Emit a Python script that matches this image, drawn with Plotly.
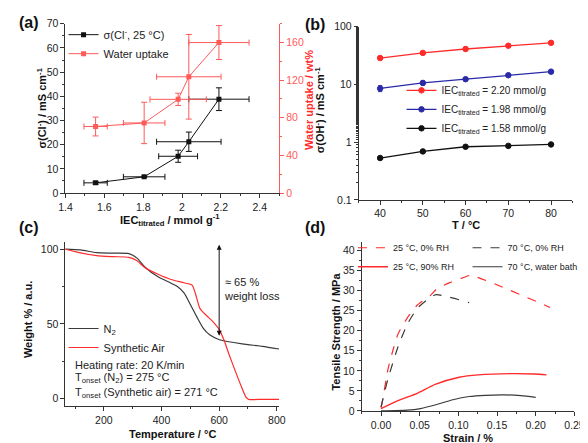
import plotly.graph_objects as go

W, H = 588, 443
def px(x): return x / W
def py(y): return 1 - y / H

FONT = "Liberation Sans, Arial, sans-serif"
RED_A = "#ff5a5a"
RED = "#ff2b2b"
BLUE = "#2a2aa8"
BLK = "#111111"
GRY = "#3a3a3a"

# ---------------- (a) data ----------------
a_iec = [1.555, 1.805, 1.98, 2.035, 2.19]
a_sigma = [4.2, 6.7, 15.2, 21.2, 38.8]
a_sigma_err = [0.6, 0.3, 2.5, 4.0, 4.7]
a_iec_err_sigma = [0.06, 0.107, 0.1, 0.166, 0.155]
a_wu = [70.7, 74.5, 99.6, 123.6, 160.0]
a_wu_err = [10.0, 22.0, 6.5, 45.0, 18.0]
a_iec_err_wu = [0.06, 0.107, 0.145, 0.166, 0.155]

# ---------------- (b) data ----------------
b_T = [40, 50, 60, 70, 80]
b_220 = [28.6, 35.1, 41.0, 46.7, 52.4]
b_220_err = [2.0, 2.0, 3.0, 2.0, 2.0]
b_198 = [8.5, 10.6, 12.3, 14.4, 16.6]
b_198_err = [1.0, 0.9, 0.6, 0.8, 0.6]
b_158 = [0.53, 0.69, 0.83, 0.86, 0.91]
b_158_err = [0.02, 0.02, 0.03, 0.02, 0.02]

# ---------------- (c) data ----------------
c_T_n2 = [65, 119, 175, 231, 287, 315, 343, 388, 433, 455, 478, 500, 523, 545, 567, 601, 680, 750, 808]
c_w_n2 = [100, 99.5, 97.6, 97.3, 97.0, 94.0, 87.9, 81.5, 77.2, 75.0, 70.7, 63.0, 54.5, 47.0, 42.7, 39.4, 36.6, 35.0, 33.2]
c_T_air = [65, 119, 175, 231, 287, 315, 343, 388, 433, 478, 506, 517, 534, 556, 578, 601, 618, 634, 657, 679, 693, 702, 750, 808]
c_w_air = [100, 97.5, 95.7, 95.0, 94.5, 92.2, 87.5, 83.2, 79.7, 77.5, 75.9, 70.7, 60.0, 55.6, 51.5, 46.0, 38.5, 29.7, 17.9, 7.1, 1.0, -0.5, -0.5, -0.5]

# ---------------- (d) data ----------------
d_s_25dry = [0.0, 0.001, 0.009, 0.0155, 0.022, 0.034, 0.047, 0.064, 0.072, 0.089, 0.106, 0.116, 0.2186]
d_t_25dry = [0.8, 1.6, 10.4, 15.2, 19.2, 23.2, 26.4, 28.8, 30.4, 32.0, 33.2, 33.8, 25.8]
d_s_70dry = [0.0, 0.009, 0.022, 0.034, 0.047, 0.059, 0.071, 0.114]
d_t_70dry = [1.0, 8.0, 16.0, 21.6, 25.6, 27.6, 29.0, 27.0]
d_s_25wet = [0.0, 0.022, 0.047, 0.07, 0.101, 0.126, 0.168, 0.198, 0.214]
d_t_25wet = [0.6, 2.6, 4.4, 6.6, 8.4, 9.0, 9.3, 9.2, 9.0]
d_s_70bath = [0.0, 0.034, 0.051, 0.072, 0.093, 0.114, 0.135, 0.16, 0.181, 0.2]
d_t_70bath = [0.0, 0.2, 0.6, 1.6, 2.8, 3.6, 3.9, 4.0, 3.8, 3.4]

fig = go.Figure()

# (a)
fig.add_trace(go.Scatter(x=a_iec, y=a_sigma, mode="lines+markers", name="σ(Cl<sup>-</sup>, 25 °C)",
    line=dict(color=BLK, width=1), marker=dict(symbol="square", size=5, color=BLK),
    error_y=dict(type="data", array=a_sigma_err, color=BLK, thickness=1, width=3),
    error_x=dict(type="data", array=a_iec_err_sigma, color=BLK, thickness=1, width=3),
    xaxis="x", yaxis="y", legend="legend"))
fig.add_trace(go.Scatter(x=a_iec, y=a_wu, mode="lines+markers", name="Water uptake",
    line=dict(color=RED_A, width=1), marker=dict(symbol="square", size=5, color=RED_A),
    error_y=dict(type="data", array=a_wu_err, color=RED_A, thickness=1, width=3),
    error_x=dict(type="data", array=a_iec_err_wu, color=RED_A, thickness=1, width=3),
    xaxis="x", yaxis="y2", legend="legend"))

# (b)
for vals, errs, col, lab in [(b_220, b_220_err, RED, "2.20"), (b_198, b_198_err, BLUE, "1.98"), (b_158, b_158_err, BLK, "1.58")]:
    fig.add_trace(go.Scatter(x=b_T, y=vals, mode="lines+markers",
        name="IEC<sub>titrated</sub> = %s mmol/g" % lab,
        line=dict(color=col, width=1.3), marker=dict(symbol="circle", size=5.5, color=col, line=dict(color=col, width=1)),
        error_y=dict(type="data", array=errs, color=col, thickness=1, width=2),
        xaxis="x2", yaxis="y3", legend="legend2"))

# (c)
fig.add_trace(go.Scatter(x=c_T_n2, y=c_w_n2, mode="lines", name="N<sub>2</sub>", line=dict(color=GRY, width=1.2, shape="spline", smoothing=0.6),
    xaxis="x3", yaxis="y4", legend="legend3"))
fig.add_trace(go.Scatter(x=c_T_air, y=c_w_air, mode="lines", name="Synthetic Air", line=dict(color=RED, width=1.2, shape="spline", smoothing=0.6),
    xaxis="x3", yaxis="y4", legend="legend3"))

# (d)
fig.add_trace(go.Scatter(x=d_s_25dry, y=d_t_25dry, mode="lines", name="25 °C, 0% RH", line=dict(color=RED, width=1.2, dash="dash", shape="spline", smoothing=0.5),
    xaxis="x4", yaxis="y5", legend="legend4"))
fig.add_trace(go.Scatter(x=d_s_25wet, y=d_t_25wet, mode="lines", name="25 °C, 90% RH", line=dict(color=RED, width=1.4, shape="spline", smoothing=0.6),
    xaxis="x4", yaxis="y5", legend="legend4"))
fig.add_trace(go.Scatter(x=d_s_70dry, y=d_t_70dry, mode="lines", name="70 °C, 0% RH", line=dict(color=GRY, width=1.2, dash="dash", shape="spline", smoothing=0.5),
    xaxis="x4", yaxis="y5", legend="legend5"))
fig.add_trace(go.Scatter(x=d_s_70bath, y=d_t_70bath, mode="lines", name="70 °C, water bath", line=dict(color=GRY, width=1.2, shape="spline", smoothing=0.6),
    xaxis="x4", yaxis="y5", legend="legend5"))

tickfont = dict(family=FONT, size=10.5, color="#222")
def axis(dom, rng, anchor, dtick=None, minor_dtick=None, color="#333", **kw):
    d = dict(domain=dom, range=rng, anchor=anchor, showline=True, linecolor=color, linewidth=1, mirror=False,
             ticks="outside", ticklen=4, tickwidth=1, tickcolor=color, showgrid=False, zeroline=False,
             tickfont=tickfont)
    if dtick is not None:
        d["dtick"] = dtick
    if minor_dtick is not None:
        d["minor"] = dict(dtick=minor_dtick, ticks="outside", ticklen=2, tickcolor=color, showgrid=False)
    d.update(kw)
    return d

def mirror_x(over, anchor, rng, dtick, minor_dtick, tick0=None):
    d = dict(overlaying=over, anchor=anchor, side="top", range=rng, ticks="inside", ticklen=3, tickcolor="#333",
             showticklabels=False, showgrid=False, zeroline=False, showline=True, linecolor="#333", dtick=dtick,
             minor=dict(dtick=minor_dtick, ticks="inside", ticklen=2, tickcolor="#333", showgrid=False))
    if tick0 is not None:
        d["tick0"] = tick0
    return d

A_X = [px(52), px(272)]; A_Y = [py(184), py(10)]
B_X = [px(354), px(574)]; B_Y = [py(191), py(13)]
C_X = [px(52), px(272)]; C_Y = [py(403), py(234)]
D_X = [px(357), px(576)]; D_Y = [py(408), py(234)]

b_tickvals = [0.1, 1, 10, 100]
b_ticktext = ["0.1", "1", "10", "100"]

def leg(x, ymid, size):
    return dict(x=px(x), y=py(ymid), xanchor="left", yanchor="middle", bgcolor="rgba(0,0,0,0)",
                font=dict(family=FONT, size=size, color="#222"), itemwidth=30, tracegroupgap=0)

fig.update_layout(
    width=W, height=H, margin=dict(l=0, r=0, t=0, b=0),
    paper_bgcolor="white", plot_bgcolor="white",
    font=dict(family=FONT, size=11, color="#222"),
    xaxis=axis(A_X, [1.4, 2.5], "y", dtick=0.2, minor_dtick=0.1, tick0=1.4),
    yaxis=axis(A_Y, [0, 70], "x", dtick=10, minor_dtick=5),
    yaxis2=dict(domain=A_Y, range=[0, 180], anchor="x", overlaying="y", side="right", showline=True, linecolor=RED_A,
                ticks="outside", ticklen=4, tickcolor=RED_A, dtick=40, showgrid=False, zeroline=False,
                tickfont=dict(family=FONT, size=10.5, color=RED_A),
                minor=dict(dtick=20, ticks="outside", ticklen=2, tickcolor=RED_A)),
    xaxis2=axis(B_X, [35, 85], "y3", dtick=10, minor_dtick=5),
    yaxis3=axis(B_Y, [-1, 2], "x2", type="log", tickvals=b_tickvals, ticktext=b_ticktext,
                minor=dict(ticks="outside", ticklen=2, tickcolor="#333", showgrid=False)),
    xaxis3=axis(C_X, [67, 808], "y4", dtick=200, minor_dtick=100, tick0=0),
    yaxis4=axis(C_Y, [-5, 105], "x3", tickvals=[0, 50, 100],
                minor=dict(tickvals=[25, 75], ticks="outside", ticklen=2, tickcolor="#333")),
    xaxis4=axis(D_X, [-0.025, 0.25], "y5", dtick=0.05, minor_dtick=0.025, tick0=0, tickformat=".2f"),
    yaxis5=axis(D_Y, [0, 42.2], "x4", dtick=5, minor_dtick=2.5),
    # mirror axes (top / right ticks)
    xaxis5=mirror_x("x", "y", [1.4, 2.5], 0.2, 0.1, tick0=1.4),
    xaxis6=mirror_x("x2", "y3", [35, 85], 10, 5),
    yaxis6=dict(overlaying="y3", anchor="x2", side="right", range=[-1, 2], type="log", ticks="inside", ticklen=3,
                tickcolor="#333", showticklabels=False, showgrid=False, zeroline=False, showline=True, linecolor="#333",
                tickvals=b_tickvals, minor=dict(ticks="inside", ticklen=2, tickcolor="#333", showgrid=False)),
    xaxis7=mirror_x("x3", "y4", [67, 808], 200, 100, tick0=0),
    yaxis7=dict(overlaying="y4", anchor="x3", side="right", range=[-5, 105], ticks="inside", ticklen=3, tickcolor="#333",
                showticklabels=False, showgrid=False, zeroline=False, showline=True, linecolor="#333", tickvals=[0, 50, 100],
                minor=dict(tickvals=[25, 75], ticks="inside", ticklen=2, tickcolor="#333")),
    xaxis8=mirror_x("x4", "y5", [-0.025, 0.25], 0.05, 0.025, tick0=0),
    yaxis8=dict(overlaying="y5", anchor="x4", side="right", range=[0, 42.2], ticks="inside", ticklen=3, tickcolor="#333",
                showticklabels=False, showgrid=False, zeroline=False, showline=True, linecolor="#333", dtick=5,
                minor=dict(dtick=2.5, ticks="inside", ticklen=2, tickcolor="#333")),
    legend=leg(50, 31, 11),
    legend2=leg(398, 98, 10),
    legend3=leg(50, 333, 11),
    legend4=leg(348, 250, 9),
    legend5=leg(466, 250, 9),
)

ann = []
def title(text, x, y, angle=0, color="#111", size=11):
    ann.append(dict(text="<b>%s</b>" % text, x=px(x), y=py(y), xref="paper", yref="paper", showarrow=False,
                    textangle=angle, font=dict(family=FONT, size=size, color=color), xanchor="center", yanchor="middle"))

title("σ(Cl<sup>-</sup>) / mS cm<sup>-1</sup>", 28, 97, -90)
title("Water uptake / wt%", 302, 88, -90, color=RED)
title("IEC<sub>titrated</sub> / mmol g<sup>-1</sup>", 160, 212)
title("σ(OH<sup>-</sup>) / mS cm<sup>-1</sup>", 314, 98, -90)
title("T / °C", 464, 217)
title("Weight % / a.u.", 14, 314, -90)
title("Temperature / °C", 162, 432)
title("Tensile Strength / MPa", 331, 326, -90)
title("Strain / %", 466, 436)
for lab, x, y in [("(a)", 2, 9), ("(b)", 297, 11), ("(c)", 2, 219), ("(d)", 297, 219)]:
    ann.append(dict(text="<b>%s</b>" % lab, x=px(x), y=py(y), xref="paper", yref="paper", showarrow=False,
                    font=dict(family=FONT, size=16, color="#111"), xanchor="left", yanchor="middle"))

# (c) annotations
for txt, yv in [("Heating rate: 20 K/min", 22.2), ("T<sub>onset</sub> (N<sub>2</sub>) = 275 °C", 13.5), ("T<sub>onset</sub> (Synthetic air) = 271 °C", 3.5)]:
    ann.append(dict(text=txt, x=92, y=yv, xref="x3", yref="y4", showarrow=False, xanchor="left", yanchor="middle",
                    font=dict(family=FONT, size=11, color="#222")))
ann.append(dict(text="≈ 65 %<br>weight loss", x=610, y=73, xref="x3", yref="y4", showarrow=False, xanchor="left",
                yanchor="middle", align="left", font=dict(family=FONT, size=11, color="#222")))
ann.append(dict(x=600, y=103, ax=600, ay=41, xref="x3", yref="y4", axref="x3", ayref="y4", text="", showarrow=True,
                arrowhead=2, arrowside="end+start", arrowsize=1, arrowwidth=1, arrowcolor="#111"))

fig.update_layout(annotations=ann)
fig.write_html("out.html")
